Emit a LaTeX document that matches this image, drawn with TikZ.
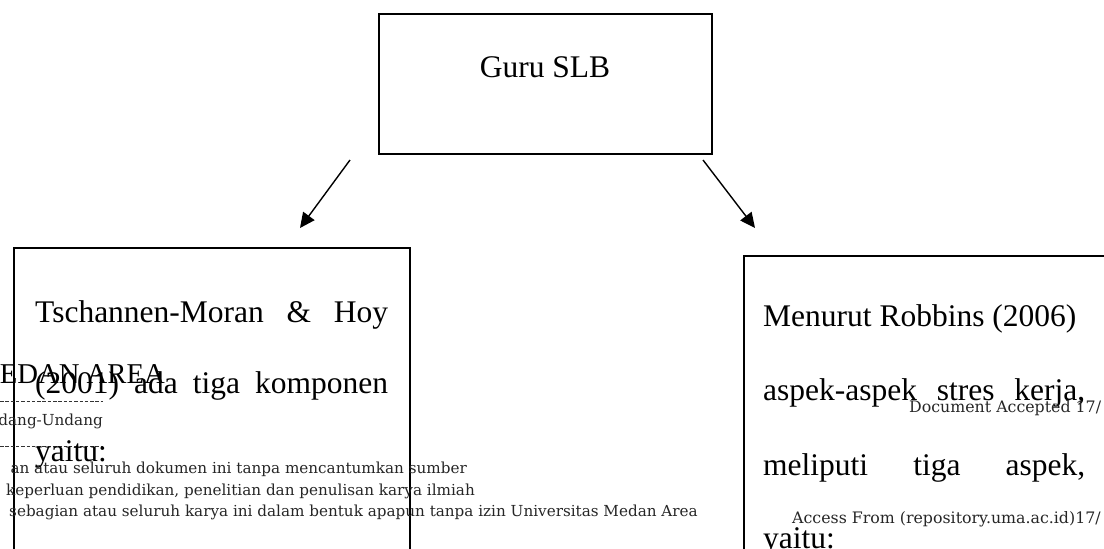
\documentclass[tikz,border=0pt]{standalone}
\usepackage{fontspec}
\setmainfont{Liberation Serif}
\newfontfamily\wmfont{DejaVu Serif}
\usetikzlibrary{arrows.meta}
\begin{document}
\begin{tikzpicture}[x=1pt,y=-1pt,
  boxline/.style={draw=black,line width=1.6pt,inner sep=0pt,fill=none},
  big/.style={font=\fontsize{31.5}{38}\selectfont,inner sep=0pt,anchor=base west},
  wm/.style={font=\wmfont\fontsize{15.2}{18}\selectfont,inner sep=0pt,text=black!85},
  wmr/.style={font=\wmfont\fontsize{15.8}{18}\selectfont,inner sep=0pt,text=black!85},
  arr/.style={line width=1.4pt,-{Triangle[length=15pt,width=14pt]}},
  dashline/.style={line width=0.7pt,dash pattern=on 3.5pt off 1.8pt,black!80}]
\useasboundingbox (0,0) rectangle (1104,549);
\clip (0,0) rectangle (1104,549);
% boxes
\node[boxline,anchor=north west,minimum width=333pt,minimum height=140pt] (top) at (378,13) {};
\node[boxline,anchor=north west,minimum width=396pt,minimum height=380pt] (lbox) at (13,247) {};
\node[boxline,anchor=north west,minimum width=420pt,minimum height=380pt] (rbox) at (743,255) {};
% top text
\node[font=\fontsize{31.5}{38}\selectfont,inner sep=0pt,anchor=base] (guru) at (545,77) {Guru SLB};
% arrows
\coordinate (a1s) at (350,160);
\coordinate (a1e) at (300,228);
\coordinate (a2s) at (703,160);
\coordinate (a2e) at (755,228);
\draw[arr] (a1s) -- (a1e);
\draw[arr] (a2s) -- (a2e);
% watermark (left)
\node[font=\fontsize{28.7}{34}\selectfont,inner sep=0pt,anchor=base east] (wm1) at (165,383) {EDAN AREA};
\coordinate (d1a) at (0,401);
\coordinate (d1b) at (103,401);
\coordinate (d2a) at (0,446);
\coordinate (d2b) at (103,446);
\draw[dashline] (d1a) -- (d1b);
\draw[dashline] (d2a) -- (d2b);
\node[wm,anchor=base east] (wm2) at (103,425) {dang-Undang};
\node[wm,anchor=base east] (wm3) at (467,473) {an atau seluruh dokumen ini tanpa mencantumkan sumber};
\node[wm,anchor=base east] (wm4) at (475,495) {keperluan pendidikan, penelitian dan penulisan karya ilmiah};
\node[wm,anchor=base east] (wm5) at (698,516) {sebagian atau seluruh karya ini dalam bentuk apapun tanpa izin Universitas Medan Area};
% left box text
\node[big] (l1) at (35,322) {\hbox to 353pt{Tschannen-Moran\hfill\&\hfill Hoy}};
\node[big] (l2) at (35,393) {\hbox to 353pt{(2001)\hfill ada\hfill tiga\hfill komponen}};
\node[big] (l3) at (35,461) {yaitu:};
% right box text
\node[big] (r1) at (763,326) {Menurut Robbins (2006)};
\node[big] (r2) at (763,400) {\hbox to 322pt{aspek-aspek\hfill stres\hfill kerja,}};
\node[big] (r3) at (763,475) {\hbox to 322pt{meliputi\hfill tiga\hfill aspek,}};
\node[big] (r4) at (763,548) {yaitu:};
% watermark (right)
\node[wmr,anchor=base west] (wm6) at (909,412) {Document Accepted 17/};
\node[wmr,anchor=base west] (wm7) at (792,523) {Access From (repository.uma.ac.id)17/};
\end{tikzpicture}
\end{document}
